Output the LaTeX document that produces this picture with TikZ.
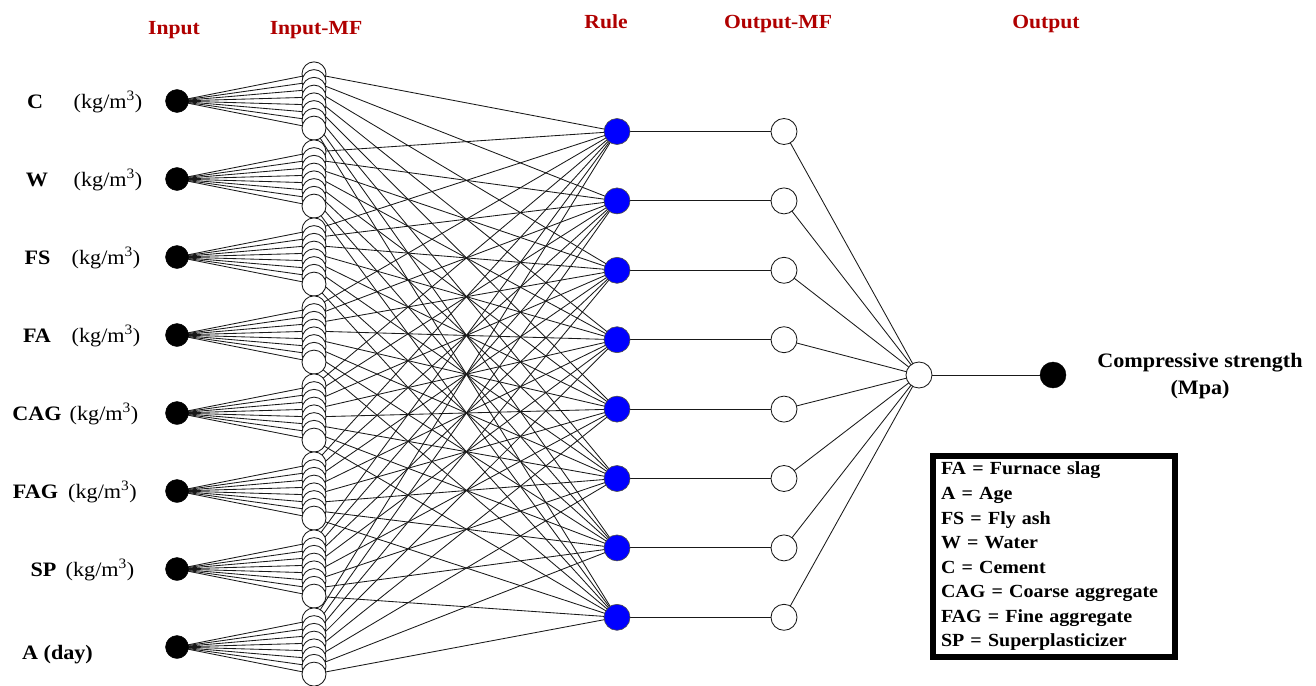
\documentclass[tikz,border=0pt]{standalone}
\usepackage{fontspec}
\setmainfont{Liberation Serif}[FakeStretch=1.08]
\usetikzlibrary{backgrounds}
\definecolor{hdrred}{RGB}{176,0,0}
\definecolor{ruleblue}{RGB}{0,0,255}
\definecolor{wirecol}{RGB}{25,25,25}

\begin{document}
\begin{tikzpicture}[x=1pt,y=-1pt,
  wire/.style={line width=0.85pt, draw=wirecol},
  innode/.style={circle, fill=black, draw=black, minimum size=23pt, inner sep=0pt},
  mfnode/.style={circle, fill=white, draw=wirecol, line width=0.85pt, minimum size=24pt, inner sep=0pt},
  rulenode/.style={circle, fill=ruleblue, draw=black!70, line width=0.6pt, minimum size=26pt, inner sep=0pt},
  outmfnode/.style={circle, fill=white, draw=wirecol, line width=0.85pt, minimum size=26pt, inner sep=0pt},
  outnode/.style={circle, fill=black, draw=black, minimum size=26pt, inner sep=0pt},
  header/.style={font=\fontsize{20}{24}\selectfont\bfseries, text=hdrred, inner sep=0pt, anchor=base},
  lab/.style={font=\fontsize{20.5}{24}\selectfont, inner sep=0pt, anchor=base},
  legendbox/.style={draw=black, line width=5.5pt, fill=white, inner xsep=8pt, inner ysep=6pt,
    text width=226pt, align=left, font=\fontsize{18.5}{24.57}\selectfont\bfseries},
]
\useasboundingbox (0,0) rectangle (1316,685);

% column headers
\node[header] (hIn)    at (174,35) {Input};
\node[header] (hInMF)  at (316,35) {Input-MF};
\node[header] (hRule)  at (606,29) {Rule};
\node[header] (hOutMF) at (778,29) {Output-MF};
\node[header] (hOut)   at (1046,29) {Output};

% input nodes and their stacked membership functions
\foreach \i in {0,...,7} {
  \pgfmathsetmacro\yi{101+78*\i}
  \node[innode] (in\i) at (177,\yi) {};
  \foreach \k in {0,...,7} {
    \pgfmathsetmacro\ym{\yi+(\k-3.5)*7.75}
    \node[mfnode] (mf\i-\k) at (314,\ym) {};
  }
}

% rule nodes and output membership functions
\foreach \k in {0,...,7} {
  \pgfmathsetmacro\yr{131.5+69.4*\k}
  \node[rulenode] (rule\k) at (617,\yr) {};
  \node[outmfnode] (om\k) at (784,\yr) {};
}
\node[outmfnode] (agg) at (919,375) {};
\node[outnode] (out) at (1053,375) {};

% connectors, kept behind the nodes
\begin{scope}[on background layer]
  \foreach \i in {0,...,7} {
    \foreach \k in {0,...,7} {
      \draw[wire] (in\i.center) -- (mf\i-\k.center);
      \draw[wire] (mf\i-\k.center) -- (rule\k.center);
    }
  }
  \foreach \k in {0,...,7} {
    \draw[wire] (rule\k.center) -- (om\k.center);
    \draw[wire] (om\k.center) -- (agg.center);
  }
  \draw[wire] (agg.center) -- (out.center);
\end{scope}

% input labels
\node[lab] (lC)   at (35,108)   {\bfseries C};
\node[lab] (uC)   at (108,108)  {(kg/m\textsuperscript{3})};
\node[lab] (lW)   at (37,186)   {\bfseries W};
\node[lab] (uW)   at (108,186)  {(kg/m\textsuperscript{3})};
\node[lab] (lFS)  at (37.5,264) {\bfseries FS};
\node[lab] (uFS)  at (106,264)  {(kg/m\textsuperscript{3})};
\node[lab] (lFA)  at (37,342)   {\bfseries FA};
\node[lab] (uFA)  at (106,342)  {(kg/m\textsuperscript{3})};
\node[lab] (lCAG) at (37,420)   {\bfseries CAG};
\node[lab] (uCAG) at (104,420)  {(kg/m\textsuperscript{3})};
\node[lab] (lFAG) at (35.5,498) {\bfseries FAG};
\node[lab] (uFAG) at (102.5,498) {(kg/m\textsuperscript{3})};
\node[lab] (lSP)  at (43.5,576) {\bfseries SP};
\node[lab] (uSP)  at (100,576)  {(kg/m\textsuperscript{3})};
\node[lab] (lA)   at (57.5,659) {\bfseries A (day)};

% output label
\node[font=\fontsize{20.5}{26.5}\selectfont\bfseries, align=center, inner sep=0pt] (lOut)
  at (1200,376) {Compressive strength\\(Mpa)};

% abbreviation key
\node[legendbox] (key) at (1054,556.5) {FA = Furnace slag\\
A = Age\\
FS = Fly ash\\
W = Water\\
C = Cement\\
CAG = Coarse aggregate\\
FAG = Fine aggregate\\
SP = Superplasticizer};
\end{tikzpicture}
\end{document}
